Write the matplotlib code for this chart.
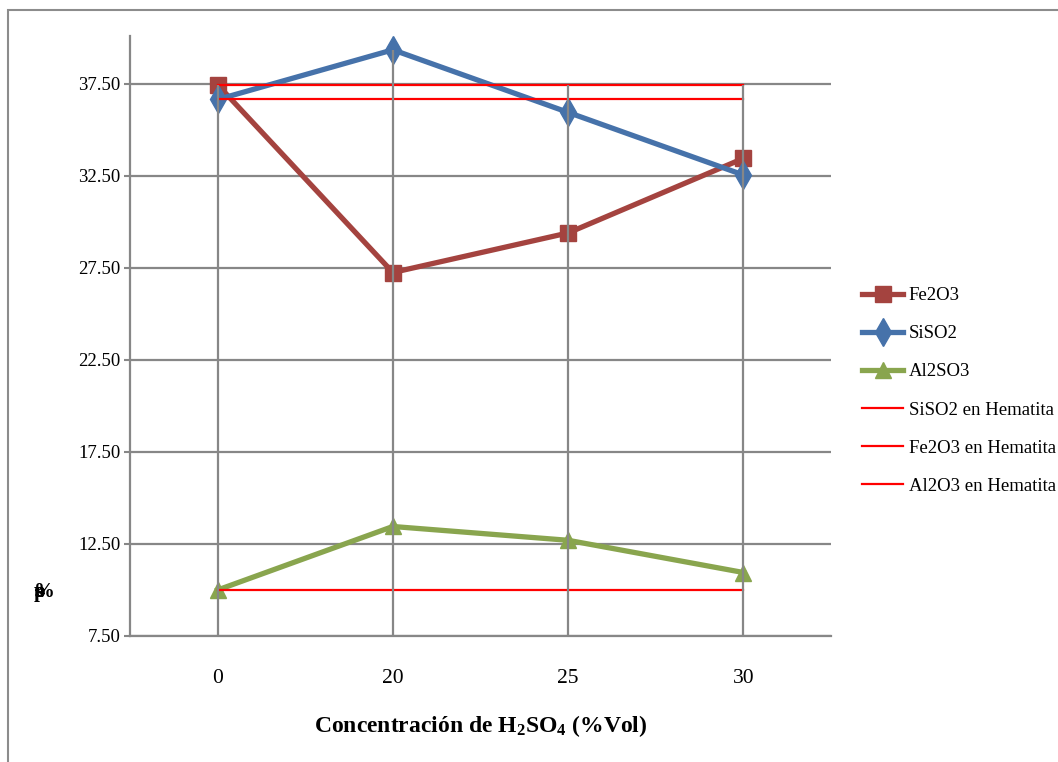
import matplotlib.pyplot as plt
from matplotlib.patches import Rectangle

plt.rcParams["font.family"] = ["Liberation Serif", "DejaVu Serif"]
plt.rcParams["mathtext.fontset"] = "custom"
plt.rcParams["mathtext.rm"] = "Liberation Serif:bold"
plt.rcParams["mathtext.default"] = "rm"

# datos
categorias = ["0", "20", "25", "30"]
fe2o3 = [37.45, 27.25, 29.40, 33.45]
siso2 = [36.65, 39.35, 35.95, 32.55]
al2so3 = [10.00, 13.45, 12.70, 10.95]
siso2_hem = [36.65, 36.65, 36.65, 36.65]
fe2o3_hem = [37.45, 37.45, 37.45, 37.45]
al2o3_hem = [10.00, 10.00, 10.00, 10.00]
yticks = [7.5, 12.5, 17.5, 22.5, 27.5, 32.5, 37.5]

W, H = 1058, 762
fig = plt.figure(figsize=(W / 100, H / 100), dpi=100)
ax = fig.add_axes([130 / W, 1 - 636 / H, 701 / W, 600 / H])

x = list(range(len(categorias)))
gris = "#878787"

# series
ax.plot(x, fe2o3, color="#A4433F", lw=3.8, marker="s", ms=11, label="Fe2O3", zorder=3)
ax.plot(x, siso2, color="#4672AA", lw=3.8, marker="d", ms=14, label="SiSO2", zorder=3)
ax.plot(x, al2so3, color="#89A54E", lw=3.8, marker="^", ms=12, label="Al2SO3", zorder=3)
ax.plot(x, siso2_hem, color="#FF0000", lw=1.6, label="SiSO2 en Hematita", zorder=4)
ax.plot(x, fe2o3_hem, color="#FF0000", lw=1.6, label="Fe2O3 en Hematita", zorder=4)
ax.plot(x, al2o3_hem, color="#FF0000", lw=1.6, label="Al2O3 en Hematita", zorder=4)

# lineas de proyeccion (drop lines) por encima de todo
todas = [fe2o3, siso2, al2so3, siso2_hem, fe2o3_hem, al2o3_hem]
for i in x:
    ax.vlines(i, 7.5, max(s[i] for s in todas), color=gris, lw=1.6, zorder=5)

ax.set_xlim(-0.5, len(categorias) - 0.5)
ax.set_ylim(7.5, 40.1)
ax.set_xticks(x)
ax.set_xticklabels(categorias)
ax.set_yticks(yticks)
ax.set_yticklabels(["%.2f" % v for v in yticks])
ax.tick_params(axis="x", length=0, pad=24, labelsize=15.5)
ax.tick_params(axis="y", length=4, color=gris, width=1.5, pad=3, labelsize=13.5)
ax.grid(axis="y", color=gris, lw=1.6, zorder=0)
for s in ["top", "right"]:
    ax.spines[s].set_visible(False)
for s in ["left", "bottom"]:
    ax.spines[s].set_color(gris)
    ax.spines[s].set_linewidth(1.6)

ax.set_xlabel("Concentración de H$_2$SO$_4$ (%Vol)", fontsize=17, fontweight="bold", labelpad=18)

# etiqueta del eje y: en el original las letras de "% peso" salen encimadas
fig.text(44 / W, 1 - 592 / H, r"$p\hspace{-0.5}e\hspace{-0.45}s\hspace{-0.4}o\hspace{-0.55}\%$",
         fontsize=15, ha="center", va="center")

ax.legend(loc="upper left", bbox_to_anchor=(862 / W, 1 - 287 / H), bbox_transform=fig.transFigure,
          frameon=False, fontsize=13.5, handlelength=2.2, handletextpad=0.3, labelspacing=1.12,
          borderaxespad=0, borderpad=0)

# marco del grafico
fig.patches.append(Rectangle((8 / W, -0.1), 1.2, 1 - 10 / H + 0.1, transform=fig.transFigure,
                             fill=False, edgecolor="#8C8C8C", lw=1.5))

fig.savefig("out.png", dpi=100)
